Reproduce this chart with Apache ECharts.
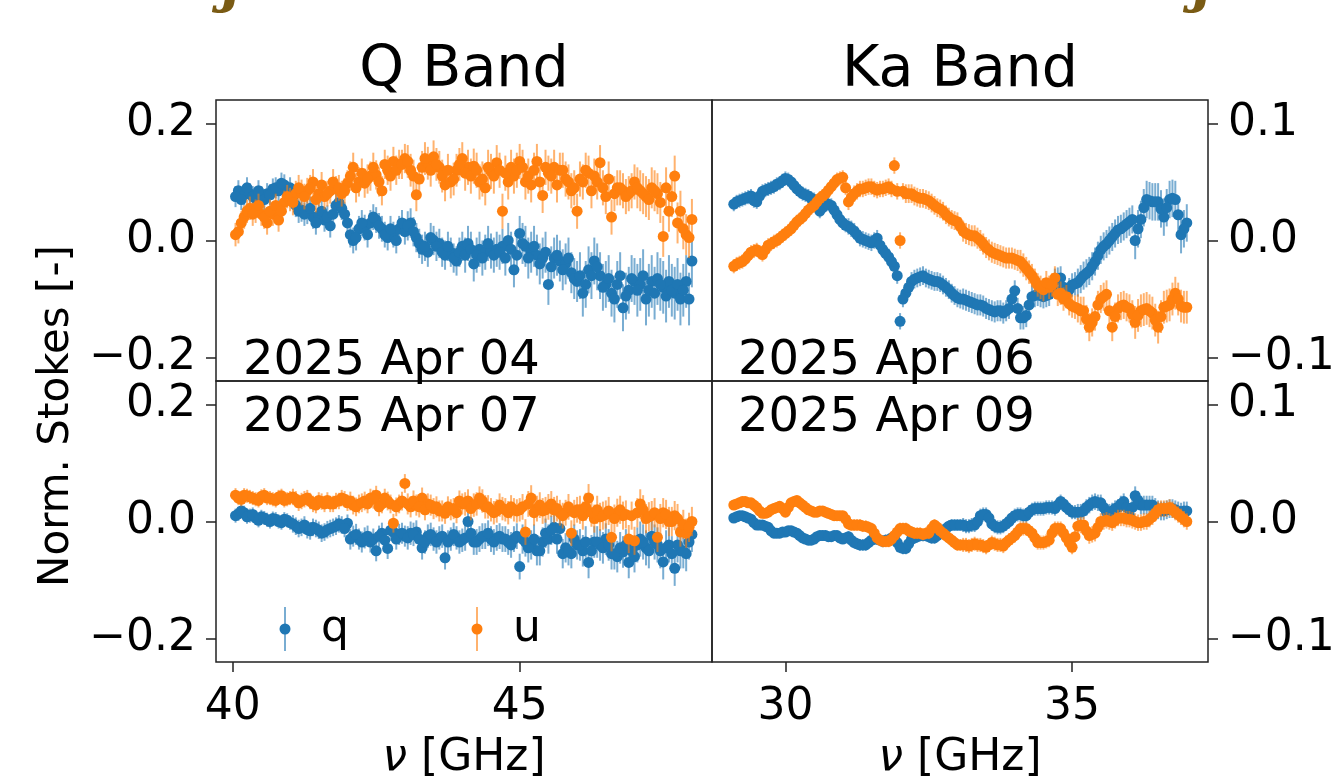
<!DOCTYPE html>
<html>
<head>
<meta charset="utf-8">
<script src="https://cdn.jsdelivr.net/npm/echarts@6/dist/echarts.min.js"></script>
<style>
html, body { margin: 0; padding: 0; background: #fff; }
#main { width: 1341px; height: 782px; }
</style>
</head>
<body>
<div id="main"></div>
<script>
var chart = echarts.init(document.getElementById('main'));

// frequencies [GHz]; each band has two interleaved channel sets
var freqQ = [40.1,40.2,40.3,40.4,40.5,40.6,40.7,40.8,40.9,41.0,
  41.1,41.2,41.3,41.4,41.5,41.6,41.7,41.8,41.9,42.0,
  42.1,42.2,42.3,42.4,42.5,42.6,42.7,42.8,42.9,43.0,
  43.1,43.2,43.3,43.4,43.5,43.6,43.7,43.8,43.9,44.0,
  44.1,44.2,44.3,44.4,44.5,44.6,44.7,44.8,44.9,45.0,
  45.1,45.2,45.3,45.4,45.5,45.6,45.7,45.8,45.9,46.0,
  46.1,46.2,46.3,46.4,46.5,46.6,46.7,46.8,46.9,47.0,
  47.1,47.2,47.3,47.4,47.5,47.6,47.7,47.8,47.9,48.0];
var freqQb = [40.05,40.15,40.25,40.35,40.45,40.55,40.65,40.75,40.85,40.95,
  41.05,41.15,41.25,41.35,41.45,41.55,41.65,41.75,41.85,41.95,
  42.05,42.15,42.25,42.35,42.45,42.55,42.65,42.75,42.85,42.95,
  43.05,43.15,43.25,43.35,43.45,43.55,43.65,43.75,43.85,43.95,
  44.05,44.15,44.25,44.35,44.45,44.55,44.65,44.75,44.85,44.95,
  45.05,45.15,45.25,45.35,45.45,45.55,45.65,45.75,45.85,45.95,
  46.05,46.15,46.25,46.35,46.45,46.55,46.65,46.75,46.85,46.95,
  47.05,47.15,47.25,47.35,47.45,47.55,47.65,47.75,47.85,47.95];
var freqKa = [29.1,29.2,29.3,29.4,29.5,29.6,29.7,29.8,29.9,30.0,
  30.1,30.2,30.3,30.4,30.5,30.6,30.7,30.8,30.9,31.0,
  31.1,31.2,31.3,31.4,31.5,31.6,31.7,31.8,31.9,32.0,
  32.1,32.2,32.3,32.4,32.5,32.6,32.7,32.8,32.9,33.0,
  33.1,33.2,33.3,33.4,33.5,33.6,33.7,33.8,33.9,34.0,
  34.1,34.2,34.3,34.4,34.5,34.6,34.7,34.8,34.9,35.0,
  35.1,35.2,35.3,35.4,35.5,35.6,35.7,35.8,35.9,36.0,
  36.1,36.2,36.3,36.4,36.5,36.6,36.7,36.8,36.9,37.0];
var freqKab = [29.15,29.25,29.35,29.45,29.55,29.65,29.75,29.85,29.95,30.05,
  30.15,30.25,30.35,30.45,30.55,30.65,30.75,30.85,30.95,31.05,
  31.15,31.25,31.35,31.45,31.55,31.65,31.75,31.85,31.95,32.05,
  32.15,32.25,32.35,32.45,32.55,32.65,32.75,32.85,32.95,33.05,
  33.15,33.25,33.35,33.45,33.55,33.65,33.75,33.85,33.95,34.05,
  34.15,34.25,34.35,34.45,34.55,34.65,34.75,34.85,34.95,35.05,
  35.15,35.25,35.35,35.45,35.55,35.65,35.75,35.85,35.95,36.05,
  36.15,36.25,36.35,36.45,36.55,36.65,36.75,36.85,36.95];

// Q band, 2025 Apr 04
var q04 = [0.085,0.078,0.08,0.072,0.075,0.08,0.088,0.085,0.095,0.09,
  0.06,0.052,0.048,0.04,0.042,0.035,0.025,0.06,0.055,0.03,
  0.0,0.02,0.022,0.03,0.035,0.02,0.005,0.01,0.02,0.015,
  0.03,0.005,-0.015,-0.02,0.0,-0.005,-0.025,-0.02,-0.035,-0.01,
  -0.005,-0.04,-0.015,-0.02,-0.018,-0.015,-0.01,0.0,-0.05,0.012,
  -0.01,-0.02,-0.025,-0.03,-0.075,-0.03,-0.035,-0.04,-0.055,-0.07,
  -0.09,-0.05,-0.035,-0.06,-0.075,-0.09,-0.075,-0.115,-0.085,-0.07,
  -0.075,-0.1,-0.07,-0.065,-0.08,-0.07,-0.09,-0.1,-0.07,-0.035];
var q04b = [0.075,0.07,0.09,0.075,0.085,0.07,0.078,0.09,0.098,0.082,
  0.075,0.05,0.045,0.055,0.03,0.05,0.04,0.045,0.065,0.045,
  0.01,0.005,0.03,0.01,0.04,0.025,0.01,0.02,0.0,0.03,
  0.025,0.015,-0.005,-0.01,0.005,-0.01,-0.02,-0.01,-0.03,-0.02,
  -0.025,-0.015,-0.025,-0.03,-0.005,-0.025,-0.02,-0.03,-0.015,-0.025,
  -0.005,-0.03,-0.01,-0.04,-0.02,-0.045,-0.025,-0.05,-0.03,-0.065,
  -0.06,-0.075,-0.06,-0.045,-0.08,-0.065,-0.1,-0.06,-0.095,-0.065,
  -0.085,-0.06,-0.085,-0.09,-0.075,-0.095,-0.085,-0.075,-0.085,-0.1];
var u04 = [0.015,0.04,0.055,0.05,0.045,0.03,0.045,0.035,0.065,0.07,
  0.08,0.082,0.085,0.1,0.08,0.075,0.085,0.088,0.08,0.098,
  0.125,0.1,0.098,0.11,0.112,0.085,0.12,0.135,0.13,0.14,
  0.12,0.078,0.125,0.132,0.143,0.125,0.095,0.1,0.12,0.14,
  0.125,0.127,0.1,0.09,0.118,0.133,0.05,0.1,0.11,0.135,
  0.1,0.095,0.135,0.077,0.115,0.125,0.12,0.105,0.085,0.05,
  0.1,0.115,0.11,0.133,0.075,0.04,0.09,0.085,0.08,0.1,
  0.085,0.075,0.09,0.08,0.007,0.05,0.11,0.05,0.01,0.036];
var u04b = [0.01,0.03,0.05,0.045,0.06,0.04,0.05,0.06,0.05,0.075,
  0.065,0.09,0.075,0.09,0.07,0.095,0.08,0.1,0.09,0.085,
  0.11,0.09,0.115,0.105,0.125,0.1,0.13,0.11,0.12,0.13,
  0.135,0.11,0.105,0.14,0.12,0.13,0.11,0.12,0.105,0.13,
  0.115,0.11,0.12,0.105,0.125,0.11,0.12,0.115,0.125,0.12,
  0.125,0.11,0.12,0.1,0.125,0.11,0.095,0.12,0.1,0.09,
  0.105,0.12,0.085,0.1,0.09,0.105,0.08,0.09,0.075,0.085,
  0.09,0.08,0.07,0.085,0.065,0.09,0.075,0.03,0.02,0.005];

// Ka band, 2025 Apr 06
var q06 = [0.031,0.034,0.036,0.038,0.033,0.042,0.044,0.046,0.049,0.053,
  0.05,0.044,0.04,0.038,0.035,0.025,0.032,0.03,0.022,0.015,
  0.012,0.008,0.002,0.0,-0.002,0.002,-0.008,-0.014,-0.022,-0.069,
  -0.045,-0.035,-0.032,-0.03,-0.033,-0.035,-0.036,-0.04,-0.045,-0.049,
  -0.05,-0.052,-0.054,-0.055,-0.058,-0.06,-0.06,-0.062,-0.058,-0.043,
  -0.066,-0.064,-0.048,-0.046,-0.048,-0.046,-0.034,-0.032,-0.046,-0.038,
  -0.036,-0.03,-0.026,-0.018,-0.008,-0.003,0.003,0.009,0.012,0.016,
  0.0,0.018,0.035,0.033,0.033,0.02,0.035,0.035,0.005,0.015];
var q06b = [0.033,0.035,0.037,0.034,0.038,0.043,0.045,0.048,0.051,0.052,
  0.047,0.042,0.039,0.036,0.03,0.028,0.031,0.026,0.018,0.013,
  0.01,0.005,0.001,-0.001,0.0,-0.004,-0.011,-0.018,-0.03,-0.05,
  -0.04,-0.033,-0.031,-0.032,-0.034,-0.035,-0.038,-0.042,-0.047,-0.05,
  -0.051,-0.053,-0.055,-0.056,-0.059,-0.061,-0.06,-0.06,-0.05,-0.058,
  -0.066,-0.055,-0.047,-0.047,-0.047,-0.04,-0.033,-0.04,-0.042,-0.037,
  -0.033,-0.028,-0.022,-0.013,-0.005,0.0,0.006,0.01,0.014,0.018,
  0.01,0.028,0.034,0.033,0.027,0.028,0.036,0.022,0.01];
var u06 = [-0.022,-0.019,-0.016,-0.01,-0.008,-0.012,-0.004,-0.001,0.002,0.006,
  0.01,0.016,0.02,0.026,0.03,0.036,0.04,0.046,0.052,0.054,
  0.033,0.04,0.044,0.045,0.046,0.043,0.044,0.046,0.064,0.0,
  0.04,0.04,0.037,0.036,0.034,0.03,0.027,0.022,0.018,0.016,
  0.008,0.005,0.004,0.0,-0.006,-0.01,-0.012,-0.014,-0.015,-0.016,
  -0.018,-0.024,-0.03,-0.038,-0.042,-0.04,-0.032,-0.045,-0.048,-0.056,
  -0.058,-0.06,-0.074,-0.065,-0.05,-0.046,-0.074,-0.058,-0.055,-0.058,
  -0.07,-0.06,-0.058,-0.062,-0.074,-0.057,-0.055,-0.045,-0.056,-0.057];
var u06b = [-0.02,-0.018,-0.013,-0.009,-0.01,-0.008,-0.003,0.0,0.004,0.008,
  0.013,0.018,0.023,0.028,0.033,0.038,0.043,0.049,0.053,0.045,
  0.037,0.042,0.044,0.046,0.044,0.044,0.045,0.044,0.042,0.042,
  0.04,0.038,0.036,0.035,0.032,0.028,0.025,0.02,0.017,0.012,
  0.006,0.004,0.002,-0.003,-0.008,-0.011,-0.013,-0.015,-0.015,-0.017,
  -0.021,-0.027,-0.034,-0.04,-0.036,-0.038,-0.046,-0.05,-0.054,-0.057,
  -0.06,-0.067,-0.07,-0.055,-0.048,-0.06,-0.065,-0.056,-0.057,-0.063,
  -0.064,-0.059,-0.06,-0.068,-0.065,-0.056,-0.05,-0.05,-0.057];

// Q band, 2025 Apr 07
var q07 = [0.013,0.015,0.01,0.006,0.008,0.003,0.005,0.0,0.004,-0.002,
  -0.008,-0.01,-0.014,-0.01,-0.015,-0.018,-0.012,-0.008,-0.006,-0.003,
  -0.025,-0.03,-0.028,-0.035,-0.05,-0.02,-0.046,-0.018,-0.022,-0.025,
  -0.02,-0.018,-0.045,-0.025,-0.03,-0.028,-0.062,-0.03,-0.028,-0.032,
  0.0,-0.035,-0.03,-0.025,-0.03,-0.028,-0.03,-0.035,-0.03,-0.077,
  -0.035,-0.04,-0.05,-0.035,-0.03,-0.01,-0.012,-0.045,-0.055,-0.04,
  -0.05,-0.07,-0.035,-0.04,-0.03,-0.055,-0.06,-0.052,-0.07,-0.06,
  -0.03,-0.045,-0.025,-0.04,-0.069,-0.04,-0.08,-0.05,-0.055,-0.022];
var q07b = [0.01,0.018,0.008,0.012,0.002,0.006,0.0,0.004,-0.002,0.002,
  -0.004,-0.012,-0.006,-0.016,-0.012,-0.02,-0.014,-0.01,-0.004,-0.012,
  -0.03,-0.022,-0.035,-0.025,-0.03,-0.025,-0.032,-0.015,-0.03,-0.02,
  -0.028,-0.022,-0.03,-0.035,-0.022,-0.035,-0.025,-0.035,-0.022,-0.035,
  -0.028,-0.02,-0.035,-0.025,-0.02,-0.035,-0.025,-0.03,-0.04,-0.025,
  -0.03,-0.045,-0.03,-0.05,-0.02,-0.015,-0.03,-0.055,-0.05,-0.03,
  -0.04,-0.035,-0.05,-0.035,-0.045,-0.04,-0.055,-0.045,-0.04,-0.05,
  -0.04,-0.035,-0.05,-0.035,-0.05,-0.045,-0.055,-0.04,-0.05,-0.035];
var u07 = [0.04,0.045,0.042,0.038,0.043,0.04,0.038,0.042,0.036,0.04,
  0.038,0.035,0.04,0.03,0.036,0.03,0.03,0.035,0.04,0.032,
  0.028,0.03,0.035,0.04,0.045,0.03,0.035,-0.003,0.03,0.065,
  0.025,0.028,0.04,0.03,0.022,0.018,0.014,0.02,0.015,0.03,
  0.035,0.028,0.04,0.025,0.02,0.018,0.022,0.015,0.02,0.02,
  -0.018,0.04,0.022,0.018,0.025,0.02,0.015,0.015,-0.02,0.02,
  0.01,0.04,0.005,0.008,0.012,-0.027,0.015,0.01,-0.03,-0.033,
  0.03,0.005,0.01,-0.027,0.015,0.0,0.01,-0.018,-0.02,0.0];
var u07b = [0.045,0.038,0.044,0.04,0.036,0.045,0.04,0.036,0.044,0.038,
  0.042,0.032,0.038,0.035,0.028,0.034,0.036,0.03,0.035,0.038,
  0.035,0.025,0.032,0.03,0.038,0.025,0.04,0.03,0.025,0.035,
  0.03,0.035,0.025,0.02,0.028,0.025,0.018,0.025,0.022,0.035,
  0.03,0.022,0.03,0.035,0.025,0.015,0.028,0.02,0.025,0.018,
  0.025,0.03,0.015,0.028,0.02,0.03,0.022,0.01,0.025,0.015,
  0.02,0.025,0.015,0.02,0.01,0.018,0.005,0.02,0.012,0.01,
  0.015,0.02,0.008,0.015,0.005,0.012,0.0,0.005,-0.005,-0.01];

// Ka band, 2025 Apr 09
var q09 = [0.003,0.005,0.004,0.002,-0.003,-0.003,-0.005,-0.01,-0.01,-0.009,
  -0.008,-0.01,-0.014,-0.016,-0.015,-0.012,-0.012,-0.013,-0.012,-0.015,
  -0.013,-0.018,-0.02,-0.02,-0.016,-0.015,-0.017,-0.016,-0.013,-0.022,
  -0.023,-0.015,-0.013,-0.012,-0.013,-0.014,-0.01,-0.006,-0.003,-0.003,
  -0.003,-0.004,-0.003,0.005,0.006,-0.002,-0.005,-0.004,0.0,0.005,
  0.006,0.005,0.01,0.011,0.011,0.012,0.011,0.017,0.012,0.008,
  0.008,0.009,0.014,0.017,0.016,0.008,0.009,0.012,0.017,0.005,
  0.022,0.014,0.014,0.014,0.01,0.009,0.011,0.01,0.008,0.009];
var q09b = [0.004,0.005,0.003,-0.001,-0.003,-0.004,-0.008,-0.01,-0.009,-0.008,
  -0.009,-0.012,-0.015,-0.016,-0.013,-0.012,-0.013,-0.012,-0.014,-0.014,
  -0.016,-0.019,-0.02,-0.018,-0.015,-0.016,-0.016,-0.014,-0.018,-0.023,
  -0.019,-0.014,-0.012,-0.012,-0.014,-0.012,-0.008,-0.004,-0.003,-0.003,
  -0.004,-0.003,0.0,0.006,0.003,-0.004,-0.005,-0.002,0.003,0.006,
  0.005,0.008,0.011,0.011,0.012,0.012,0.014,0.015,0.01,0.008,
  0.008,0.012,0.016,0.016,0.012,0.008,0.011,0.015,0.012,0.012,
  0.018,0.014,0.014,0.012,0.009,0.01,0.011,0.009,0.009];
var u09 = [0.014,0.016,0.017,0.016,0.012,0.007,0.008,0.011,0.013,0.008,
  0.016,0.018,0.014,0.01,0.008,0.009,0.008,0.006,0.005,0.005,
  -0.002,-0.003,-0.003,-0.004,-0.006,-0.014,-0.017,-0.017,-0.012,-0.006,
  -0.006,-0.009,-0.01,-0.011,-0.01,-0.003,-0.008,-0.012,-0.016,-0.02,
  -0.02,-0.021,-0.019,-0.02,-0.022,-0.018,-0.02,-0.021,-0.016,-0.012,
  -0.006,-0.006,-0.01,-0.018,-0.018,-0.016,-0.006,-0.006,-0.014,-0.022,
  -0.004,-0.003,-0.012,-0.01,0.0,0.001,-0.001,0.003,0.003,0.002,
  0.0,-0.001,0.0,0.004,0.01,0.011,0.012,0.008,0.004,0.0];
var u09b = [0.015,0.017,0.016,0.014,0.009,0.007,0.01,0.012,0.011,0.012,
  0.017,0.016,0.012,0.009,0.008,0.009,0.007,0.005,0.005,0.002,
  -0.003,-0.003,-0.004,-0.005,-0.01,-0.016,-0.017,-0.015,-0.009,-0.006,
  -0.008,-0.01,-0.01,-0.01,-0.006,-0.005,-0.01,-0.014,-0.018,-0.02,
  -0.02,-0.02,-0.02,-0.021,-0.02,-0.019,-0.02,-0.018,-0.014,-0.009,
  -0.006,-0.008,-0.014,-0.018,-0.017,-0.01,-0.006,-0.01,-0.018,-0.013,
  -0.003,-0.008,-0.011,-0.005,0.0,0.0,0.001,0.003,0.002,0.001,
  -0.001,0.0,0.002,0.007,0.011,0.011,0.01,0.006,0.002];

// 1-sigma errors, one value per block of 10 channels
var eq04 = [0.018,0.02,0.022,0.025,0.03,0.035,0.04,0.045];
var eu04 = [0.02,0.022,0.025,0.028,0.03,0.03,0.03,0.035];
var eq06 = [0.006,0.006,0.007,0.008,0.009,0.01,0.012,0.016];
var eu06 = [0.006,0.006,0.007,0.008,0.009,0.01,0.012,0.014];
var eq07 = [0.012,0.015,0.018,0.02,0.022,0.025,0.027,0.03];
var eu07 = [0.012,0.014,0.016,0.018,0.02,0.022,0.024,0.025];
var eq09 = [0.004,0.004,0.005,0.005,0.006,0.006,0.007,0.008];
var eu09 = [0.004,0.004,0.005,0.005,0.006,0.006,0.007,0.007];

var xTicksQ = [40, 45];
var xTicksKa = [30, 35];
var yTicksL = [-0.2, 0, 0.2];
var yTicksR = [-0.1, 0, 0.1];

var FONT = 'DejaVu Sans';
var BLUE = '#1f77b4', ORANGE = '#ff7f0e';
var BLUE_BAR = 'rgba(31,119,180,0.6)', ORANGE_BAR = 'rgba(255,127,14,0.6)';

function pts(freq, vals, errs) {
  return freq.map(function (f, i) { return [f, vals[i], errs[Math.floor(i / 10)]]; });
}

function errBars(color) {
  return function (params, api) {
    var x = api.value(0), y = api.value(1), e = api.value(2);
    var a = api.coord([x, y - e]), b = api.coord([x, y + e]);
    return {
      type: 'line',
      shape: { x1: a[0], y1: a[1], x2: b[0], y2: b[1] },
      style: { stroke: color, lineWidth: 2 }
    };
  };
}

function fmt(v) {
  return (v < 0 ? '\u2212' : '') + Math.abs(v).toFixed(1);
}

var panels = [
  { q: pts(freqQ, q04, eq04).concat(pts(freqQb, q04b, eq04)),
    u: pts(freqQ, u04, eu04).concat(pts(freqQb, u04b, eu04)) },
  { q: pts(freqKa, q06, eq06).concat(pts(freqKab, q06b, eq06)),
    u: pts(freqKa, u06, eu06).concat(pts(freqKab, u06b, eu06)) },
  { q: pts(freqQ, q07, eq07).concat(pts(freqQb, q07b, eq07)),
    u: pts(freqQ, u07, eu07).concat(pts(freqQb, u07b, eu07)) },
  { q: pts(freqKa, q09, eq09).concat(pts(freqKab, q09b, eq09)),
    u: pts(freqKa, u09, eu09).concat(pts(freqKab, u09b, eu09)) }
];

var grids = [
  { left: 216, top: 100, width: 496, height: 281 },
  { left: 712, top: 100, width: 496, height: 281 },
  { left: 216, top: 381, width: 496, height: 281 },
  { left: 712, top: 381, width: 496, height: 281 }
].map(function (g) {
  g.show = true; g.borderColor = '#222'; g.borderWidth = 1.5;
  return g;
});

var tickStyle = { color: '#222', width: 1.5 };
var labelStyle = { fontSize: 44, fontFamily: FONT, color: '#000' };

var xAxes = [], yAxes = [], series = [];
panels.forEach(function (p, i) {
  var isQ = (i % 2 === 0), bottom = (i >= 2);
  var xt = isQ ? xTicksQ : xTicksKa;
  xAxes.push({
    type: 'value', gridIndex: i, position: 'bottom',
    min: isQ ? 39.71 : 28.72, max: isQ ? 48.35 : 37.37,
    splitLine: { show: false }, axisLine: { show: false, onZero: false },
    axisTick: { show: bottom, length: 10, lineStyle: tickStyle, customValues: xt },
    axisLabel: Object.assign({ show: bottom, margin: 24, customValues: xt }, labelStyle)
  });
  var yt = isQ ? yTicksL : yTicksR;
  yAxes.push({
    type: 'value', gridIndex: i, position: isQ ? 'left' : 'right',
    min: isQ ? -0.24 : -0.12, max: isQ ? 0.24 : 0.12,
    splitLine: { show: false }, axisLine: { show: false, onZero: false },
    axisTick: { show: true, length: 10, lineStyle: tickStyle, customValues: yt },
    axisLabel: Object.assign({ margin: 20, customValues: yt, formatter: fmt }, labelStyle)
  });
  var common = { xAxisIndex: i, yAxisIndex: i, silent: true, animation: false };
  series.push(Object.assign({ type: 'custom', name: 'q', z: 2, renderItem: errBars(BLUE_BAR),
    encode: { x: 0, y: 1 }, data: p.q }, common));
  series.push(Object.assign({ type: 'scatter', name: 'q', z: 3, symbolSize: 11,
    itemStyle: { color: BLUE, opacity: 1 }, data: p.q }, common));
  series.push(Object.assign({ type: 'custom', name: 'u', z: 4, renderItem: errBars(ORANGE_BAR),
    encode: { x: 0, y: 1 }, data: p.u }, common));
  series.push(Object.assign({ type: 'scatter', name: 'u', z: 5, symbolSize: 11,
    itemStyle: { color: ORANGE, opacity: 1 }, data: p.u }, common));
});

function txt(x, y, s, size, extra) {
  return {
    type: 'text', x: x, y: y, z: 100,
    style: Object.assign({ text: s, fontSize: size, fontFamily: FONT, fill: '#000',
      align: 'left', verticalAlign: 'top' }, extra || {})
  };
}

var nuLabel = { text: '{i|\u03bd} [GHz]', align: 'center', verticalAlign: 'middle',
  rich: { i: { fontStyle: 'italic', fontSize: 44, fontFamily: FONT } } };
var ornament = { fontFamily: 'DejaVu Serif', fontStyle: 'italic', fontWeight: 'bold',
  fill: '#7a5b14', align: 'center', verticalAlign: 'middle' };

var graphics = [
  // cut-off ornaments at the very top edge
  txt(232, -15, 'j', 58, ornament),
  txt(1203, -15, 'j', 58, ornament),
  txt(464, 43, 'Q Band', 57, { align: 'center' }),
  txt(960, 43, 'Ka Band', 57, { align: 'center' }),
  txt(243, 338, '2025 Apr 04', 48),
  txt(738, 338, '2025 Apr 06', 48),
  txt(243, 395, '2025 Apr 07', 48),
  txt(738, 395, '2025 Apr 09', 48),
  txt(464, 759, '', 44, nuLabel),
  txt(960, 759, '', 44, nuLabel),
  {
    type: 'text', x: 57, y: 416, rotation: Math.PI / 2, z: 100,
    style: { text: 'Norm. Stokes [-]', fontSize: 42, fontFamily: FONT, fill: '#000',
      align: 'center', verticalAlign: 'middle' }
  },
  // legend
  { type: 'line', shape: { x1: 285, y1: 607, x2: 285, y2: 651 }, style: { stroke: BLUE_BAR, lineWidth: 2 }, z: 100 },
  { type: 'circle', shape: { cx: 285, cy: 629, r: 5.5 }, style: { fill: BLUE }, z: 101 },
  txt(321, 630, 'q', 44, { verticalAlign: 'middle' }),
  { type: 'line', shape: { x1: 477, y1: 607, x2: 477, y2: 651 }, style: { stroke: ORANGE_BAR, lineWidth: 2 }, z: 100 },
  { type: 'circle', shape: { cx: 477, cy: 629, r: 5.5 }, style: { fill: ORANGE }, z: 101 },
  txt(513, 630, 'u', 44, { verticalAlign: 'middle' })
];

var option = {
  animation: false,
  backgroundColor: '#fff',
  grid: grids,
  xAxis: xAxes,
  yAxis: yAxes,
  series: series,
  graphic: graphics
};
chart.setOption(option);
</script>
</body>
</html>
